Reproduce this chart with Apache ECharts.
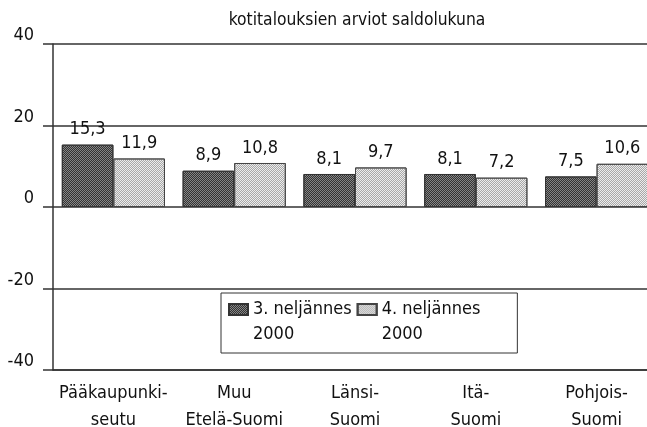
<!DOCTYPE html>
<html>
<head>
<meta charset="utf-8">
<script src="https://cdn.jsdelivr.net/npm/echarts@6/dist/echarts.min.js"></script>
<style>
  html, body { margin: 0; padding: 0; background: #fff; }
  #chart { width: 647px; height: 427px; }
</style>
</head>
<body>
<div id="chart"></div>
<script>
// alueet
const categories = ['Pääkaupunki-\nseutu', 'Muu\nEtelä-Suomi', 'Länsi-\nSuomi', 'Itä-\nSuomi', 'Pohjois-\nSuomi'];
// sarjat
const seriesNames = ['3. neljännes\n2000', '4. neljännes\n2000'];
const q3Values = [15.3, 8.9, 8.1, 8.1, 7.5];
const q4Values = [11.9, 10.8, 9.7, 7.2, 10.6];
// y-akseli
const yMin = -40;
const yMax = 40;
const yStep = 20;

const FONT = "'DejaVu Sans Condensed', 'DejaVu Sans', sans-serif";
const INK = '#111';

const chart = echarts.init(document.getElementById('chart'));

const fmt = v => String(v).replace('.', ',');

const barLabel = {
  show: true,
  position: 'top',
  distance: 6,
  color: INK,
  fontFamily: FONT,
  fontSize: 18,
  formatter: p => fmt(p.value)
};

const option = {
  backgroundColor: '#fff',
  animation: false,
  title: {
    text: 'kotitalouksien arviot saldolukuna',
    left: 352,
    top: 7,
    textAlign: 'center',
    textStyle: { color: INK, fontFamily: FONT, fontSize: 17.3, fontWeight: 'normal' }
  },
  legend: {
    left: 221,
    top: 293,
    padding: [3, 37, 5, 7],
    itemGap: 5,
    itemWidth: 19,
    itemHeight: 50,
    icon: 'path://M0,7H19V18H0Z M0,0L0,0 M0,50L0,50',
    backgroundColor: '#fff',
    borderColor: '#333',
    borderWidth: 1,
    borderRadius: 0,
    selectedMode: false,
    textStyle: { color: INK, fontFamily: FONT, fontSize: 18, lineHeight: 25 },
    data: seriesNames
  },
  grid: {
    left: 53,
    right: -10,
    top: 44,
    bottom: 57,
    containLabel: false,
    outerBoundsMode: 'none'
  },
  xAxis: {
    type: 'category',
    data: categories,
    axisLine: { onZero: false, lineStyle: { color: '#333', width: 1.5 } },
    axisTick: { show: false },
    axisLabel: {
      interval: 0,
      color: INK,
      fontFamily: FONT,
      fontSize: 18,
      lineHeight: 27,
      margin: 10
    }
  },
  yAxis: {
    type: 'value',
    min: yMin,
    max: yMax,
    interval: yStep,
    axisLine: { show: true, lineStyle: { color: '#333', width: 1.5 } },
    axisTick: { show: true, inside: false, length: 10, lineStyle: { color: '#333', width: 1.5 } },
    splitLine: { show: true, lineStyle: { color: '#333', width: 1.5 } },
    axisLabel: {
      color: INK,
      fontFamily: FONT,
      fontSize: 18,
      margin: 19,
      verticalAlign: 'bottom',
      lineHeight: 17
    }
  },
  series: [
    {
      name: seriesNames[0],
      type: 'bar',
      data: q3Values,
      barGap: '0%',
      barCategoryGap: '14.6%',
      itemStyle: {
        color: '#858585',
        borderColor: '#333',
        borderWidth: 1,
        decal: {
          symbol: 'rect',
          symbolSize: 1,
          color: '#333333',
          dashArrayX: [[1, 1], [0, 1, 1, 0]],
          dashArrayY: [1, 0]
        }
      },
      label: barLabel
    },
    {
      name: seriesNames[1],
      type: 'bar',
      data: q4Values,
      itemStyle: {
        color: '#ececec',
        borderColor: '#444',
        borderWidth: 1,
        decal: {
          symbol: 'rect',
          symbolSize: 1,
          color: '#a8a8a8',
          dashArrayX: [[1, 1], [0, 1, 1, 0]],
          dashArrayY: [1, 0]
        }
      },
      label: barLabel
    }
  ]
};

chart.setOption(option);
</script>
</body>
</html>
